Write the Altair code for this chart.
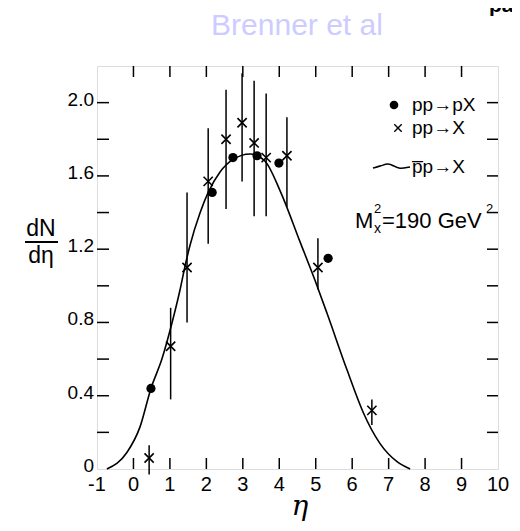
import altair as alt
import pandas as pd

# ---- data ----
# pp -> X  (crosses with error bars)
cross_x = [0.43, 1.02, 1.47, 2.05, 2.54, 2.98, 3.31, 3.64, 4.21, 5.06, 6.54]
cross_y = [0.06, 0.67, 1.10, 1.57, 1.80, 1.89, 1.78, 1.70, 1.71, 1.10, 0.32]
cross_lo = [-0.03, 0.38, 0.80, 1.23, 1.42, 1.57, 1.38, 1.38, 1.43, 0.98, 0.24]
cross_hi = [0.13, 0.88, 1.51, 1.86, 2.07, 2.16, 2.12, 2.05, 1.92, 1.26, 0.38]

# pp -> pX  (dots)
dot_x = [0.48, 2.16, 2.73, 3.39, 3.99, 5.34]
dot_y = [0.44, 1.51, 1.70, 1.71, 1.67, 1.15]

# pbar p -> X  (curve)
curve_x = [-0.73, -0.18, 0.18, 0.48, 0.78, 1.06, 1.28, 1.44, 1.55, 1.83, 2.05, 2.37,
           2.73, 3.20, 3.61, 4.02, 4.57, 4.98, 5.31, 5.86, 6.30, 6.76, 7.23, 7.59]
curve_y = [0.0, 0.09, 0.23, 0.44, 0.60, 0.80, 0.98, 1.13, 1.22, 1.40, 1.51, 1.62,
           1.69, 1.72, 1.68, 1.52, 1.24, 1.03, 0.85, 0.54, 0.31, 0.14, 0.04, 0.0]

x_label_values = [-1, 0, 1, 2, 3, 4, 5, 6, 7, 8, 9, 10]
x_label_texts = ["-1", "0", "1", "2", "3", "4", "5", "6", "7", "8", "9", "10"]
y_label_values = [0, 0.4, 0.8, 1.2, 1.6, 2.0]
y_label_texts = ["0", "0.4", "0.8", "1.2", "1.6", "2.0"]
x_tick_values = [0, 1, 2, 3, 4, 5, 6, 7, 8, 9]
y_tick_values = [0.2, 0.4, 0.6, 0.8, 1.0, 1.2, 1.4, 1.6, 1.8, 2.0]

legend_labels = ["pp\u2192pX", "pp\u2192X", "p\u0305p\u2192X"]
title_text = "Brenner et al"

W, H = 401, 403
XMIN, XMAX, YMIN, YMAX = -1, 10, 0, 2.2
FONT = "Liberation Sans"

cross_df = pd.DataFrame({"x": cross_x, "y": cross_y, "lo": cross_lo, "hi": cross_hi})
dot_df = pd.DataFrame({"x": dot_x, "y": dot_y})
curve_df = pd.DataFrame({"x": curve_x, "y": curve_y})
xt_df = pd.DataFrame({"x": x_tick_values})
yt_df = pd.DataFrame({"y": y_tick_values})
xl_df = pd.DataFrame({"x": x_label_values, "t": x_label_texts})
yl_df = pd.DataFrame({"y": y_label_values, "t": y_label_texts})

xs = alt.Scale(domain=[XMIN, XMAX], nice=False, zero=False)
ys = alt.Scale(domain=[YMIN, YMAX], nice=False, zero=False)


def X(field):
    return alt.X(field, scale=xs, axis=None)


def Y(field):
    return alt.Y(field, scale=ys, axis=None)


curve = alt.Chart(curve_df).mark_line(color="black", strokeWidth=1.6, interpolate="monotone").encode(
    x=X("x:Q"), y=Y("y:Q"),
)

errbars = alt.Chart(cross_df).mark_rule(color="black", strokeWidth=1.5).encode(
    x=X("x:Q"), y=Y("lo:Q"), y2="hi:Q",
)

XPATH = "M-1,-1L1,1M-1,1L1,-1"
crosses = alt.Chart(cross_df).mark_point(shape=XPATH, size=85, filled=False, color="black",
                                         strokeWidth=1.6, opacity=1).encode(
    x=X("x:Q"), y=Y("y:Q"),
)

dots = alt.Chart(dot_df).mark_circle(size=85, color="black", opacity=1).encode(
    x=X("x:Q"), y=Y("y:Q"),
)

# inward ticks
xt_bottom = alt.Chart(xt_df).mark_rule(color="black", strokeWidth=1.5).encode(
    x=X("x:Q"), y=alt.value(H), y2=alt.value(H - 11))
xt_top = alt.Chart(xt_df).mark_rule(color="black", strokeWidth=1.5).encode(
    x=X("x:Q"), y=alt.value(0), y2=alt.value(11))
yt_left = alt.Chart(yt_df).mark_rule(color="black", strokeWidth=1.5).encode(
    y=Y("y:Q"), x=alt.value(0), x2=alt.value(12))
yt_right = alt.Chart(yt_df).mark_rule(color="black", strokeWidth=1.5).encode(
    y=Y("y:Q"), x=alt.value(W), x2=alt.value(W - 11))

# tick labels
x_labels = alt.Chart(xl_df).mark_text(align="center", baseline="top", fontSize=20,
                                      font=FONT, color="black").encode(
    x=X("x:Q"), y=alt.value(H + 6), text="t:N")
y_labels = alt.Chart(yl_df).mark_text(align="right", baseline="middle", fontSize=19,
                                      font=FONT, color="black", dy=-3).encode(
    y=Y("y:Q"), x=alt.value(-3), text="t:N")


def txt(label, x, y, size, align="left", baseline="middle", color="black",
        font=FONT, weight="normal", style="normal"):
    return alt.Chart(pd.DataFrame({"t": [label]})).mark_text(
        align=align, baseline=baseline, fontSize=size, font=font, color=color,
        fontWeight=weight, fontStyle=style).encode(
        x=alt.value(x), y=alt.value(y), text="t:N")


one = pd.DataFrame({"k": [0]})
leg_dot = alt.Chart(one).mark_circle(size=75, color="black", opacity=1).encode(
    x=alt.value(297), y=alt.value(39))
leg_cross = alt.Chart(one).mark_point(shape=XPATH, size=55, filled=False, color="black",
                                      strokeWidth=1.4, opacity=1).encode(
    x=alt.value(301), y=alt.value(62))

# legend wiggle glyph, placed in pixel offsets and mapped back through the scales
wave_px = [276, 284, 291, 297, 302, 313]
wave_py = [102, 100, 97, 100, 103, 101]
wave_df = pd.DataFrame({
    "x": [XMIN + p / W * (XMAX - XMIN) for p in wave_px],
    "y": [YMAX - p / H * (YMAX - YMIN) for p in wave_py],
})
leg_wave = alt.Chart(wave_df).mark_line(color="black", strokeWidth=1.5, interpolate="basis").encode(
    x=X("x:Q"), y=Y("y:Q"))

frac_rule = alt.Chart(one).mark_rule(color="black", strokeWidth=1.8).encode(
    x=alt.value(-72), x2=alt.value(-39), y=alt.value(176))

layers = [
    curve, errbars, crosses, dots, xt_bottom, xt_top, yt_left, yt_right,
    x_labels, y_labels,
    leg_dot, leg_cross, leg_wave,
    txt(legend_labels[0], 315, 39, 19),
    txt(legend_labels[1], 315, 62, 19),
    txt(legend_labels[2], 315, 101, 19),
    txt("M", 258, 155, 22),
    txt("2", 277, 143, 13),
    txt("x", 277, 163, 14),
    txt("=190 GeV", 285, 155, 22),
    txt("2", 389, 143, 13),
    txt("dN", -56, 163, 23, align="center"),
    frac_rule,
    txt("d\u03b7", -56, 190, 23, align="center"),
    txt("\u03b7", 203, 449, 28, align="center", baseline="alphabetic",
        font="DejaVu Serif", style="italic"),
    txt(title_text, 200, -31, 30, align="center", baseline="alphabetic",
        color="#ccccff"),
    txt("pa", 392, -54, 21, baseline="alphabetic", weight="bold"),
]

chart = alt.layer(*layers).properties(
    width=W, height=H,
    padding={"left": 89, "top": 58, "right": 14, "bottom": 54},
    autosize=alt.AutoSizeParams(type="none"),
).configure_view(
    stroke="black", strokeWidth=2.5
).configure(background="white")

chart.save("out.html", embed_options={"renderer": "svg", "actions": False})
